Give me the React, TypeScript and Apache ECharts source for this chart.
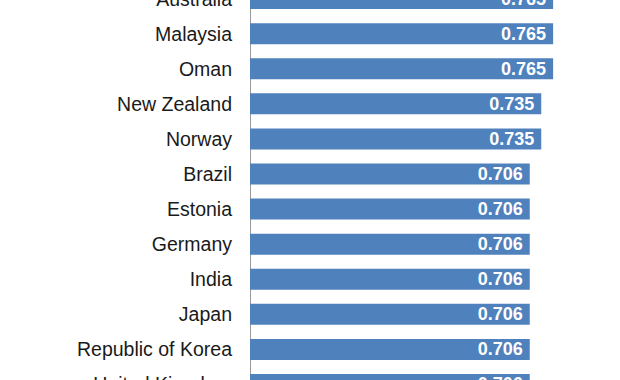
import React, { useEffect, useRef } from "react";
import * as echarts from "echarts";

const countries = [
  "Australia",
  "Malaysia",
  "Oman",
  "New Zealand",
  "Norway",
  "Brazil",
  "Estonia",
  "Germany",
  "India",
  "Japan",
  "Republic of Korea",
  "United Kingdom",
];
const scores = [0.765, 0.765, 0.765, 0.735, 0.735, 0.706, 0.706, 0.706, 0.706, 0.706, 0.706, 0.706];

export default function App() {
  const ref = useRef<HTMLDivElement>(null);
  useEffect(() => {
    if (!ref.current) return;
    const chart = echarts.init(ref.current, undefined, { renderer: "svg" });
    chart.setOption({
      animation: false,
      backgroundColor: "#ffffff",
      grid: { left: 250, top: 0, width: 317, height: 421 },
      xAxis: { type: "value", min: 0, max: 0.8, show: false },
      yAxis: {
        type: "category",
        data: countries,
        inverse: true,
        axisLine: { show: true, lineStyle: { color: "#999999", width: 1 } },
        axisTick: { show: false },
        splitLine: { show: false },
        axisLabel: {
          color: "#1a1a1a",
          fontSize: 19.5,
          margin: 18,
          fontFamily: "Liberation Sans, Arial, sans-serif",
        },
      },
      series: [
        {
          type: "bar",
          data: scores,
          barWidth: 21,
          itemStyle: { color: "#4f81bd" },
          label: {
            show: true,
            position: "insideRight",
            distance: 7,
            color: "#ffffff",
            fontWeight: "bold",
            fontSize: 18,
            fontFamily: "Liberation Sans, Arial, sans-serif",
            formatter: (p: any) => p.value.toFixed(3),
          },
        },
      ],
    });
    return () => chart.dispose();
  }, []);
  return (
    <div
      style={{
        position: "absolute",
        left: 0,
        top: 0,
        width: 620,
        height: 380,
        overflow: "hidden",
        background: "#ffffff",
      }}
    >
      <div
        ref={ref}
        style={{ position: "absolute", left: 0, top: -19, width: 620, height: 421 }}
      />
    </div>
  );
}
